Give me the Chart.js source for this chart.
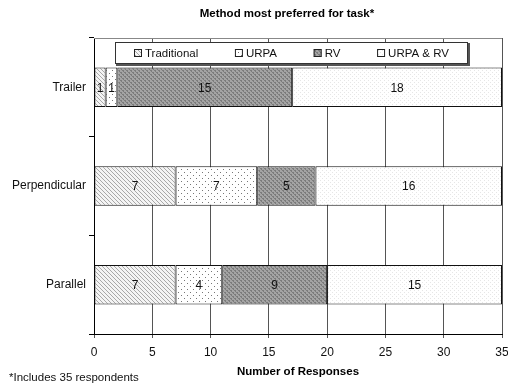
<!DOCTYPE html>
<html>
<head>
<meta charset="utf-8">
<script src="https://cdn.jsdelivr.net/npm/chart.js@4"></script>
<style>
  html, body { margin: 0; padding: 0; background: #fff; }
  #wrap { width: 508px; height: 385px; }
</style>
</head>
<body>
<div id="wrap"><canvas id="c" width="508" height="385"></canvas></div>
<script>
// Responses per parking task, split by preferred method
const tasks = ['Trailer', 'Perpendicular', 'Parallel'];
const methodNames = ['Traditional', 'URPA', 'RV', 'URPA & RV'];
const traditional = [1, 7, 7];
const urpa = [1, 7, 4];
const rv = [15, 5, 9];
const urpaRv = [18, 16, 15];
const xTickValues = [0, 5, 10, 15, 20, 25, 30, 35];

const FONT = "'Liberation Sans', Arial, sans-serif";

// Small tiled fills
function makePattern(size, paint) {
  const t = document.createElement('canvas');
  t.width = size; t.height = size;
  const g = t.getContext('2d');
  paint(g, size);
  return document.getElementById('c').getContext('2d').createPattern(t, 'repeat');
}
const hatchFill = makePattern(4, (g, s) => {
  g.fillStyle = '#f4f4f4'; g.fillRect(0, 0, s, s);
  g.fillStyle = '#a8a8a8';
  for (let i = 0; i < s; i++) g.fillRect(i, i, 1, 1);
});
const dotFill = makePattern(6, (g, s) => {
  g.fillStyle = '#ffffff'; g.fillRect(0, 0, s, s);
  g.fillStyle = '#777777';
  g.fillRect(1, 1, 1, 1); g.fillRect(4, 4, 1, 1);
});
const darkFill = makePattern(4, (g, s) => {
  g.fillStyle = '#a4a4a4'; g.fillRect(0, 0, s, s);
  g.fillStyle = '#7c7c7c';
  g.fillRect(0, 0, 2, 1); g.fillRect(2, 2, 2, 1);
  g.fillRect(1, 1, 1, 1); g.fillRect(3, 3, 1, 1);
});
const faintFill = makePattern(4, (g, s) => {
  g.fillStyle = '#ffffff'; g.fillRect(0, 0, s, s);
  g.fillStyle = '#e6e6e6';
  g.fillRect(0, 0, 1, 1); g.fillRect(2, 2, 1, 1);
});
const fills = [hatchFill, dotFill, darkFill, faintFill];
const series = [traditional, urpa, rv, urpaRv];

const decor = {
  id: 'decor',
  afterDatasetsDraw(chart) {
    const ctx = chart.ctx;
    ctx.save();
    ctx.font = '12px ' + FONT;
    ctx.fillStyle = '#111';
    ctx.textAlign = 'center';
    ctx.textBaseline = 'middle';
    chart.data.datasets.forEach((ds, i) => {
      chart.getDatasetMeta(i).data.forEach((el, j) => {
        ctx.fillText(String(ds.data[j]), (el.x + el.base) / 2, el.y + 1);
      });
    });
    ctx.restore();
  },
  afterDraw(chart) {
    const ctx = chart.ctx;
    const a = chart.chartArea;
    ctx.save();
    // upper frame line
    ctx.strokeStyle = '#888';
    ctx.lineWidth = 1;
    ctx.beginPath();
    ctx.moveTo(a.left, a.top + 0.5);
    ctx.lineTo(a.right, a.top + 0.5);
    ctx.stroke();

    // legend box inside the plot
    const bx = a.left + 21, by = a.top + 4, bw = 353, bh = 22;
    ctx.fillStyle = '#555';
    ctx.fillRect(bx + 1, by + 1, bw + 1, bh + 1);
    ctx.fillStyle = '#fff';
    ctx.fillRect(bx, by, bw, bh);
    ctx.strokeStyle = '#333';
    ctx.strokeRect(bx + 0.5, by + 0.5, bw - 1, bh - 1);

    ctx.font = '11.5px ' + FONT;
    ctx.textBaseline = 'middle';
    ctx.textAlign = 'left';
    const sw = 8, gapText = 3;
    const labels = chart.data.datasets.map(d => d.label);
    const widths = labels.map(l => sw + gapText + ctx.measureText(l).width);
    const textTotal = widths.reduce((s, w) => s + w, 0);
    const margin = 19;
    const gapItem = (bw - 2 * margin - textTotal) / (labels.length - 1);
    let x = bx + margin;
    const cy = by + bh / 2 + 1;
    labels.forEach((l, i) => {
      ctx.fillStyle = chart.data.datasets[i].backgroundColor;
      ctx.fillRect(x, cy - 5, sw, sw);
      ctx.strokeStyle = '#222';
      ctx.strokeRect(x + 0.5, cy - 4.5, sw - 1, sw - 1);
      ctx.fillStyle = '#111';
      ctx.fillText(l, x + sw + gapText, cy);
      x += widths[i] + gapItem;
    });

    // title, axis title and footnote
    ctx.fillStyle = '#000';
    ctx.textAlign = 'center';
    ctx.font = 'bold 11.5px ' + FONT;
    ctx.fillText('Method most preferred for task*', (a.left + a.right) / 2 - 11, 14);
    ctx.fillText('Number of Responses', (a.left + a.right) / 2, 372);
    ctx.textAlign = 'left';
    ctx.font = '11.5px ' + FONT;
    ctx.fillStyle = '#111';
    ctx.fillText('*Includes 35 respondents', 9, 378);
    ctx.restore();
  }
};

new Chart(document.getElementById('c'), {
  type: 'bar',
  data: {
    labels: tasks,
    datasets: series.map((vals, i) => ({
      label: methodNames[i],
      data: vals,
      backgroundColor: fills[i],
      borderColor: '#111',
      borderWidth: 1,
      borderSkipped: false,
      barPercentage: 0.4,
      categoryPercentage: 1.0
    }))
  },
  options: {
    indexAxis: 'y',
    responsive: false,
    devicePixelRatio: 1,
    animation: false,
    layout: { padding: { left: 0, right: 0, top: 38, bottom: 0 } },
    plugins: {
      legend: { display: false },
      title: { display: false },
      tooltip: { enabled: false }
    },
    scales: {
      x: {
        stacked: true,
        min: 0,
        max: 35,
        afterBuildTicks: s => { s.ticks = xTickValues.map(v => ({ value: v })); },
        afterFit: s => { s.height = 51; s.paddingRight = 6; s.paddingLeft = 0; },
        grid: { color: '#555', lineWidth: 1, tickLength: 4, drawTicks: true },
        border: { color: '#000', width: 1 },
        ticks: { font: { family: FONT, size: 12 }, color: '#111', padding: 7, maxRotation: 0 }
      },
      y: {
        stacked: true,
        afterFit: s => { s.width = 94; },
        grid: { offset: true, drawOnChartArea: false, tickLength: 5, color: '#000' },
        border: { color: '#000', width: 1 },
        ticks: { font: { family: FONT, size: 12 }, color: '#111', padding: 3 }
      }
    }
  },
  plugins: [decor]
});
</script>
</body>
</html>
